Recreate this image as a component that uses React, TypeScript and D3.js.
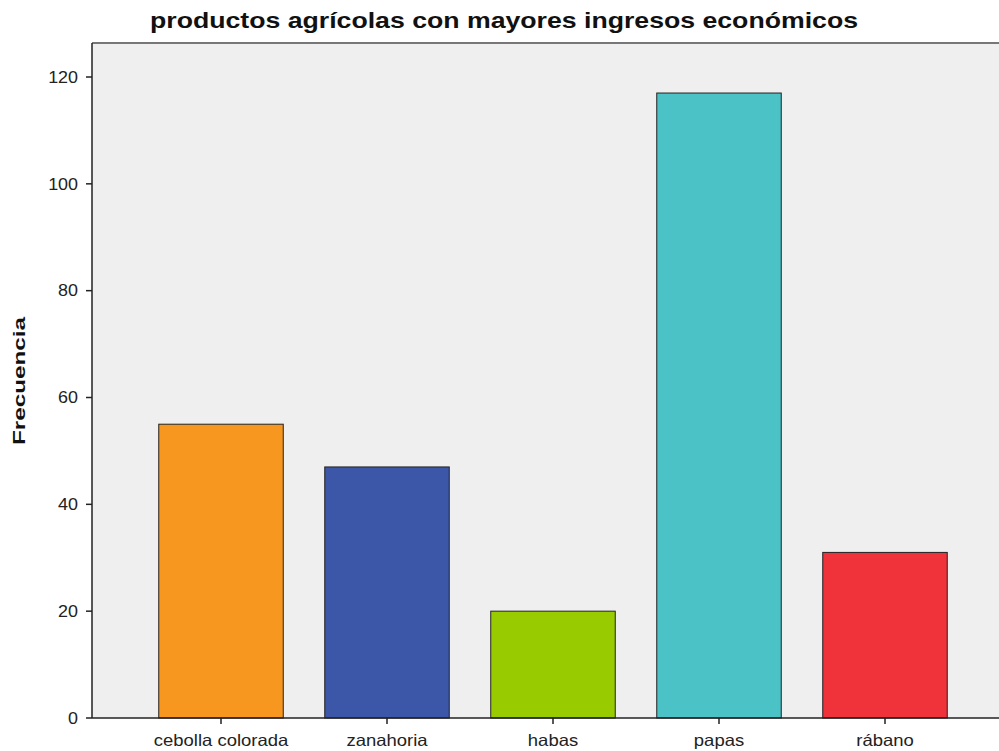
import React from "react";
import * as d3 from "d3";

const categories = ["cebolla colorada", "zanahoria", "habas", "papas", "rábano"];
const values = [55, 47, 20, 117, 31];
const colors = ["#f7971f", "#3c56a8", "#99cc00", "#4ac2c6", "#f0323a"];
const yTicks = [0, 20, 40, 60, 80, 100, 120];
const title = "productos agrícolas con mayores ingresos económicos";
const yLabel = "Frecuencia";

export default function App() {
  const W = 999, H = 751;
  const left = 92, top = 43, bottom = 718;
  const x = d3.scaleBand<string>().domain(categories).range([138, 968]).paddingInner(0.25).paddingOuter(0.125);
  const y = d3.scaleLinear().domain([0, 120]).range([bottom, 77]);
  const font = "'Liberation Sans', Arial, sans-serif";
  const sx = 1.12;
  return (
    <svg width={W} height={H} style={{ position: "absolute", left: 0, top: 0, background: "#fff" }} fontFamily={font}>
      <rect x={left} y={top} width={W - left} height={bottom - top} fill="#efefef" />
      <line x1={left} x2={W} y1={top} y2={top} stroke="#777" strokeWidth={2} />
      {categories.map((c, i) => (
        <rect key={c} x={x(c)} y={y(values[i])} width={x.bandwidth()} height={bottom - y(values[i])}
          fill={colors[i]} stroke="#222" strokeWidth={1} />
      ))}
      <line x1={left} x2={left} y1={top} y2={bottom} stroke="#222" strokeWidth={1.5} />
      <line x1={left} x2={W} y1={bottom} y2={bottom} stroke="#222" strokeWidth={1.5} />
      {yTicks.map(t => (
        <g key={t}>
          <line x1={left - 6} x2={left} y1={y(t)} y2={y(t)} stroke="#222" strokeWidth={1.5} />
          <text transform={`translate(${left - 14},${y(t)}) scale(${sx},1)`} dy="0.36em" textAnchor="end" fontSize={16} fill="#222">{t}</text>
        </g>
      ))}
      {categories.map(c => {
        const cx = x(c)! + x.bandwidth() / 2;
        return (
          <g key={c}>
            <line x1={cx} x2={cx} y1={bottom} y2={bottom + 6} stroke="#222" strokeWidth={1.5} />
            <text transform={`translate(${cx},746) scale(${sx},1)`} textAnchor="middle" fontSize={16.5} fill="#222">{c}</text>
          </g>
        );
      })}
      <text x={504} y={28} textAnchor="middle" fontSize={22} fontWeight="bold" fill="#111"
        textLength={708} lengthAdjust="spacingAndGlyphs">{title}</text>
      <text transform={`translate(25,381) rotate(-90)`} textAnchor="middle" fontSize={17} fontWeight="bold" fill="#111"
        textLength={128} lengthAdjust="spacingAndGlyphs">{yLabel}</text>
    </svg>
  );
}
